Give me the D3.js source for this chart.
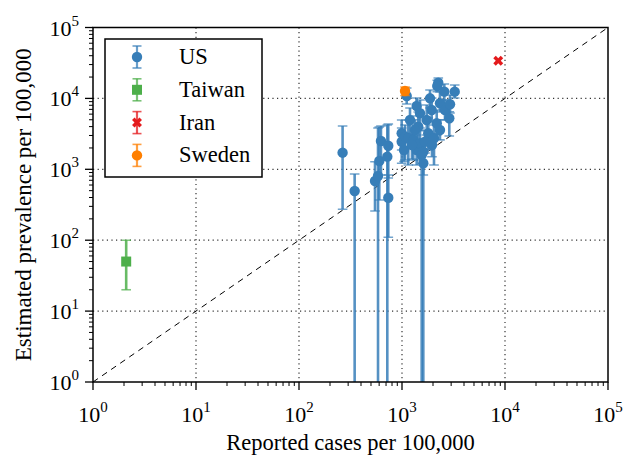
<!DOCTYPE html>
<html>
<head>
<meta charset="utf-8">
<script src="https://cdn.jsdelivr.net/npm/d3@7"></script>
<style>
body { margin: 0; background: #fff; }
svg { display: block; font-family: "Liberation Serif", "Times New Roman", serif; }
</style>
</head>
<body>
<svg></svg>
<script>
// US states: reported cases vs estimated prevalence (per 100,000)
var usCases = [265, 347, 547, 585, 602, 625, 720, 736, 736, 993, 993, 1070, 1111, 1151, 1288, 1389, 1389, 1439, 1496, 1496, 1610, 1610, 1553, 1738, 1800, 1871, 1942, 2045, 2173, 2250, 2200, 2337, 2575, 2614, 2878, 2926, 3250, 1196, 1337, 1673, 1955, 2337, 1046, 1250]
var usPrev  = [1715, 494, 684, 805, 1309, 2507, 1506, 2152, 397, 3220, 2450, 2884, 10810, 2737, 2589, 7815, 1871, 3990, 6165, 2327, 1771, 1216, 1591, 4960, 3220, 10030, 6860, 2737, 4456, 16650, 14960, 8530, 12440, 6860, 5240, 8260, 12440, 4960, 3580, 2450, 2200, 3580, 1871, 2200]
var usLow   = [273, 0, 258, 0, 369, 832, 0, 754, 110, 1871, 1216, 1352, 8340, 1150, 1352, 5650, 1150, 2200, 3822, 1352, 832, 0, 0, 3047, 1871, 7320, 4645, 1150, 3047, 14020, 12440, 6430, 9490, 4960, 2950, 6220, 10130, 3047, 2500, 1700, 1500, 2600, 1290, 1400]
var usHigh  = [4080, 859, 1280, 3830, 3950, 4080, 4215, 4355, 832, 4960, 3830, 4215, 14020, 4960, 4215, 10130, 3047, 6430, 9490, 3580, 2589, 1871, 2589, 8070, 5290, 13130, 10130, 4215, 6860, 19400, 18000, 12300, 15960, 9490, 6490, 11170, 15450, 7320, 5000, 3500, 3200, 5000, 2589, 3200]

var taiwanCases = [2.1], taiwanPrev = [50], taiwanLow = [20], taiwanHigh = [100]
var iranCases = [8600], iranPrev = [34000], iranLow = [34000], iranHigh = [34000]
var swedenCases = [1070], swedenPrev = [12700], swedenLow = [11000], swedenHigh = [14500]

var decades = [1, 10, 100, 1000, 10000, 100000]
var exponents = ["0", "1", "2", "3", "4", "5"]
var diagonal = [1, 100000]

var screen = {width:624,height:456}
var margins = {top:27.5,right:16,bottom:74,left:93}

var makeSeries = function(name, color, marker, cases, prev, low, high)
    {
        return {name:name, color:color, marker:marker,
                points: cases.map(function(c,i){return {x:c, y:prev[i], lo:low[i], hi:high[i]}})}
    }

var series = [
    makeSeries("US", "#377eb8", "circle", usCases, usPrev, usLow, usHigh),
    makeSeries("Taiwan", "#4daf4a", "square", taiwanCases, taiwanPrev, taiwanLow, taiwanHigh),
    makeSeries("Iran", "#e41a1c", "x", iranCases, iranPrev, iranLow, iranHigh),
    makeSeries("Sweden", "#ff7f00", "circle", swedenCases, swedenPrev, swedenLow, swedenHigh)
]

var width = screen.width - margins.left - margins.right
var height = screen.height - margins.top - margins.bottom

var xScale = d3.scaleLog().domain([1,100000]).range([0,width])
var yScale = d3.scaleLog().domain([1,100000]).range([height,0])

// clamp anything below the axis minimum to the bottom edge
var yPos = function(v)
    {
        return v <= 1 ? yScale(1) : yScale(v)
    }

var svg = d3.select("svg")
    .attr("width",screen.width)
    .attr("height",screen.height)

svg.append("defs").append("clipPath").attr("id","plotClip")
    .append("rect").attr("width",width).attr("height",height)

var plot = svg.append("g")
    .attr("transform","translate("+margins.left+","+margins.top+")")

// dotted grid at the decades
var inner = decades.slice(1,-1)
plot.append("g").selectAll("line.gx").data(inner).enter().append("line")
    .attr("x1",function(d){return xScale(d)}).attr("x2",function(d){return xScale(d)})
    .attr("y1",0).attr("y2",height)
    .attr("stroke","#333").attr("stroke-width",1.2).attr("stroke-dasharray","1.2,3.4")
plot.append("g").selectAll("line.gy").data(inner).enter().append("line")
    .attr("y1",function(d){return yScale(d)}).attr("y2",function(d){return yScale(d)})
    .attr("x1",0).attr("x2",width)
    .attr("stroke","#333").attr("stroke-width",1.2).attr("stroke-dasharray","1.2,3.4")

// y = x reference line
plot.append("line")
    .attr("x1",xScale(diagonal[0])).attr("y1",yScale(diagonal[0]))
    .attr("x2",xScale(diagonal[1])).attr("y2",yScale(diagonal[1]))
    .attr("stroke","black").attr("stroke-width",1).attr("stroke-dasharray","6,5")

var crossPath = d3.symbol().type(d3.symbolCross).size(62)()

var drawMarker = function(sel, marker, color)
    {
        if (marker == "circle")
            sel.append("circle").attr("r",5.2).attr("fill",color)
        else if (marker == "square")
            sel.append("path").attr("d",d3.symbol().type(d3.symbolSquare).size(100)()).attr("fill",color)
        else
            sel.append("path").attr("d",crossPath).attr("transform","rotate(45)").attr("fill",color)
    }

var marks = plot.append("g").attr("clip-path","url(#plotClip)")

series.forEach(function(s)
    {
        var g = marks.append("g")
        var bars = g.selectAll("g.bar")
            .data(s.points.filter(function(p){return p.hi > p.lo}))
            .enter().append("g")
            .attr("stroke",s.color).attr("stroke-opacity",0.85)
        bars.append("line")
            .attr("x1",function(p){return xScale(p.x)}).attr("x2",function(p){return xScale(p.x)})
            .attr("y1",function(p){return yPos(p.lo)}).attr("y2",function(p){return yPos(p.hi)})
            .attr("stroke-width",2.6)
        bars.append("line")
            .attr("x1",function(p){return xScale(p.x)-4.8}).attr("x2",function(p){return xScale(p.x)+4.8})
            .attr("y1",function(p){return yPos(p.hi)}).attr("y2",function(p){return yPos(p.hi)})
            .attr("stroke-width",1.6).attr("stroke-opacity",0.7)
        bars.filter(function(p){return p.lo > 1}).append("line")
            .attr("x1",function(p){return xScale(p.x)-4.8}).attr("x2",function(p){return xScale(p.x)+4.8})
            .attr("y1",function(p){return yPos(p.lo)}).attr("y2",function(p){return yPos(p.lo)})
            .attr("stroke-width",1.6).attr("stroke-opacity",0.7)

        var pts = g.selectAll("g.pt").data(s.points).enter().append("g")
            .attr("transform",function(p){return "translate("+xScale(p.x)+","+yScale(p.y)+")"})
        drawMarker(pts, s.marker, s.color)
    })

// frame
plot.append("rect").attr("width",width).attr("height",height)
    .attr("fill","none").attr("stroke","black").attr("stroke-width",1.5)

// minor + major ticks
var minorTicks = []
decades.slice(0,-1).forEach(function(d){ for (var k=2;k<10;k++) minorTicks.push(d*k) })

plot.append("g").selectAll("line").data(minorTicks).enter().append("line")
    .attr("x1",function(d){return xScale(d)}).attr("x2",function(d){return xScale(d)})
    .attr("y1",height).attr("y2",height+4).attr("stroke","black").attr("stroke-width",1)
plot.append("g").selectAll("line").data(decades).enter().append("line")
    .attr("x1",function(d){return xScale(d)}).attr("x2",function(d){return xScale(d)})
    .attr("y1",height).attr("y2",height+8).attr("stroke","black").attr("stroke-width",1.3)
plot.append("g").selectAll("line").data(minorTicks).enter().append("line")
    .attr("y1",function(d){return yScale(d)}).attr("y2",function(d){return yScale(d)})
    .attr("x1",0).attr("x2",-4).attr("stroke","black").attr("stroke-width",1)
plot.append("g").selectAll("line").data(decades).enter().append("line")
    .attr("y1",function(d){return yScale(d)}).attr("y2",function(d){return yScale(d)})
    .attr("x1",0).attr("x2",-8).attr("stroke","black").attr("stroke-width",1.3)

// tick labels 10^n
var xLabels = plot.append("g").selectAll("text").data(decades).enter().append("text")
    .attr("x",function(d){return xScale(d)}).attr("y",height+40)
    .attr("text-anchor","middle").attr("font-size",22)
xLabels.append("tspan").text("10")
xLabels.append("tspan").attr("dy",-10).attr("font-size",15).text(function(d,i){return exponents[i]})

var yLabels = plot.append("g").selectAll("text").data(decades).enter().append("text")
    .attr("x",-14).attr("y",function(d){return yScale(d)+8})
    .attr("text-anchor","end").attr("font-size",22)
yLabels.append("tspan").text("10")
yLabels.append("tspan").attr("dy",-10).attr("font-size",15).text(function(d,i){return exponents[i]})

// axis titles
plot.append("text").attr("x",width/2).attr("y",height+68)
    .attr("text-anchor","middle").attr("font-size",22.5).text("Reported cases per 100,000")
plot.append("text").attr("transform","translate(-62,"+(height/2)+") rotate(-90)")
    .attr("text-anchor","middle").attr("font-size",23).text("Estimated prevalence per 100,000")

// legend
var legend = svg.append("g").attr("transform","translate(105,39)")
legend.append("rect").attr("width",157).attr("height",138)
    .attr("fill","white").attr("stroke","black").attr("stroke-width",1.5)
var rows = legend.selectAll("g.row").data(series).enter().append("g")
    .attr("transform",function(s,i){return "translate(32,"+(18+i*32.8)+")"})
rows.append("line").attr("y1",-11).attr("y2",11)
    .attr("stroke",function(s){return s.color}).attr("stroke-opacity",0.75).attr("stroke-width",2.2)
rows.append("line").attr("x1",-4.5).attr("x2",4.5).attr("y1",-11).attr("y2",-11)
    .attr("stroke",function(s){return s.color}).attr("stroke-opacity",0.75).attr("stroke-width",1.6)
rows.append("line").attr("x1",-4.5).attr("x2",4.5).attr("y1",11).attr("y2",11)
    .attr("stroke",function(s){return s.color}).attr("stroke-opacity",0.75).attr("stroke-width",1.6)
rows.each(function(s){ drawMarker(d3.select(this), s.marker, s.color) })
rows.append("text").attr("x",42).attr("y",7).attr("font-size",22.5).text(function(s){return s.name})
</script>
</body>
</html>
